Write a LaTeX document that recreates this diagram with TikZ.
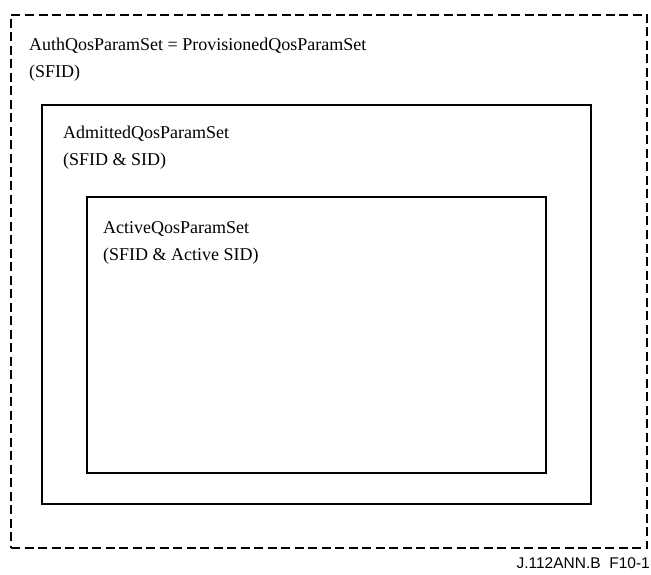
\documentclass[tikz,border=0pt]{standalone}
\usepackage{fontspec}
\setmainfont{Liberation Serif}
\newfontfamily\tagfont{Liberation Sans}
\usepackage{tikz}
\usetikzlibrary{positioning}

\begin{document}
\begin{tikzpicture}[
  x=1pt, y=-1pt,
  setbox/.style={rectangle, draw, line width=2.8pt, inner sep=0pt},
  authbox/.style={setbox, dash pattern=on 9pt off 4.5pt},
  lbl/.style={anchor=north west, inner sep=0pt, align=left,
              font=\fontsize{18}{27}\selectfont},
  tag/.style={anchor=base east, inner sep=0pt, font=\tagfont\fontsize{15.5}{18}\selectfont}
]
\useasboundingbox (0,0) rectangle (651,575);
% nested parameter sets
\node[authbox, minimum width=636pt, minimum height=533pt] (auth)  at (329,281.5) {};
\node[setbox,  minimum width=549pt, minimum height=399pt] (admit) at (316.5,304.5) {};
\node[setbox,  minimum width=459pt, minimum height=276pt] (act)   at (316.5,335) {};
\node[lbl] (authL)  at (29,38)  {AuthQosParamSet = ProvisionedQosParamSet\\(SFID)};
\node[lbl] (admitL) at (63,126) {AdmittedQosParamSet\\(SFID \& SID)};
\node[lbl] (actL)   at (103,221) {ActiveQosParamSet\\(SFID \& Active SID)};
\node[tag] (figno) at (650,568) {J.112ANN.B\ \ F10-1};
\end{tikzpicture}
\end{document}
